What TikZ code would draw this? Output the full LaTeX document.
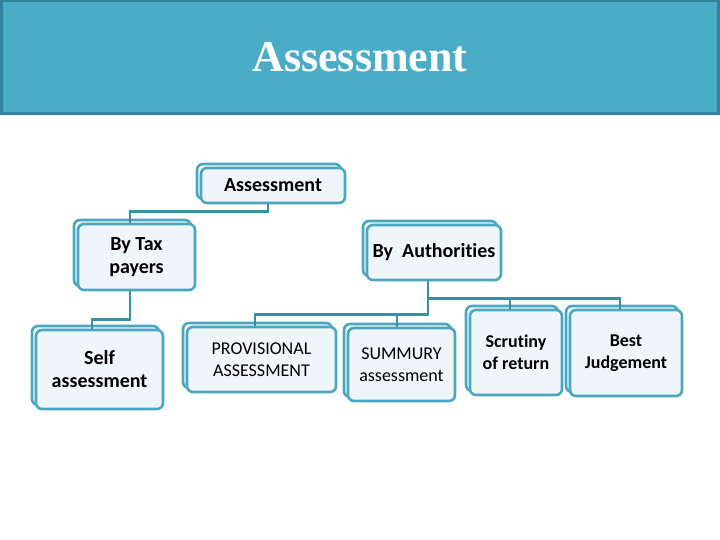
\documentclass[tikz,border=0pt]{standalone}
\usepackage{fontspec}
\setmainfont{Carlito}[Ligatures=NoCommon]
\newfontfamily\titlefont{Liberation Serif}
\usetikzlibrary{shadows}
\definecolor{banner}{HTML}{4BACC6}
\definecolor{bannerrim}{HTML}{31849B}
\definecolor{boxrim}{HTML}{4BA7C0}
\definecolor{boxfill}{HTML}{EEF6FA}
\definecolor{linkcol}{HTML}{3F8CA3}

\begin{document}
\begin{tikzpicture}[x=1pt,y=-1pt,
        box/.style={draw=boxrim, fill=boxfill, line width=2.6pt, rounded corners=6pt,
            copy shadow={shadow xshift=-4pt, shadow yshift=4pt},
            align=center, inner sep=0pt, font=\fontsize{18}{22}\selectfont},
        heavy/.style={font=\fontsize{18}{22}\selectfont\bfseries},
        big/.style={font=\fontsize{20}{23}\selectfont\bfseries},
        link/.style={draw=linkcol, line width=2.6pt}]
    \useasboundingbox (0,0) rectangle (720,540);
    \node[fill=banner, draw=bannerrim, line width=3pt, minimum width=717pt, minimum height=113pt,
        text=white, font=\titlefont\fontsize{44}{50}\selectfont\bfseries] (head) at (360,57.5) {Assessment};

    \node[box, big, minimum width=144pt, minimum height=35pt] (top) at (273,185.5) {Assessment};
    \node[box, big, minimum width=117pt, minimum height=66pt] (taxp) at (136.5,257) {By Tax\\payers};
    \node[box, big, minimum width=127pt, minimum height=79pt] (self) at (99.5,369.5) {Self\\assessment};
    \node[box, big, minimum width=134pt, minimum height=55pt] (auth) at (434,252.5) {By~ Authorities};
    \node[box, minimum width=149pt, minimum height=65pt] (prov) at (261.5,359.5) {PROVISIONAL\\ASSESSMENT};
    \node[box, minimum width=107pt, minimum height=73pt] (summ) at (401.5,364.5) {SUMMURY\\assessment};
    \node[box, heavy, minimum width=92pt, minimum height=85pt] (scru) at (516,352.5) {Scrutiny\\of return};
    \node[box, heavy, minimum width=112pt, minimum height=86pt] (best) at (626,353) {Best\\Judgement};

    \draw[link] ([xshift=-5pt]top.south) -- ++(0,7) -| ([xshift=-6.5pt]taxp.north);
    \draw[link] ([xshift=-6.5pt]taxp.south) -- ++(0,28) -| ([xshift=-7.5pt]self.north);
    \draw[link] ([xshift=-6pt]auth.south) -- ++(0,33) -| ([xshift=-6.5pt]prov.north);
    \draw[link] ([xshift=-6pt]auth.south) ++(0,33) -| ([xshift=-4.5pt]summ.north);
    \draw[link] ([xshift=-6pt]auth.south) ++(0,17) -| ([xshift=-6pt]scru.north);
    \draw[link] ([xshift=-6pt]auth.south) ++(0,17) -| ([xshift=-6pt]best.north);
\end{tikzpicture}
\end{document}
